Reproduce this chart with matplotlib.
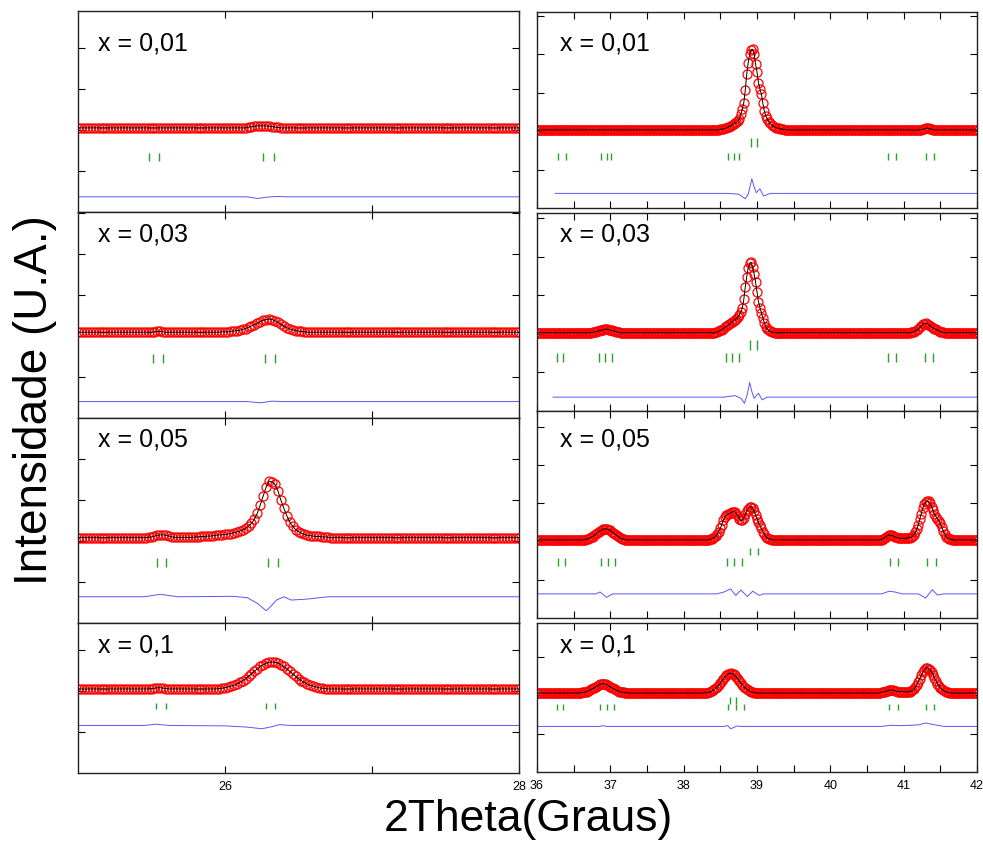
import numpy as np
import matplotlib.pyplot as plt
from matplotlib.ticker import FixedLocator, MultipleLocator

plt.rcParams['font.family'] = ['Liberation Sans', 'DejaVu Sans']

labels = ["x = 0,01", "x = 0,03", "x = 0,05", "x = 0,1"]

# 2theta sampling (instrument step 0.02 deg)
tt_left = np.round(25 + 0.02 * np.arange(151), 2)
tt_right = np.round(36 + 0.02 * np.arange(301), 2)

obs_l1 = [
    205, 205, 205, 205, 205, 205, 205, 205, 205, 205,
    205, 205, 205, 205, 205, 205, 205, 205, 205, 205,
    205, 205, 205, 205, 205, 205, 205, 205, 205, 205,
    205, 205, 205, 205, 205, 205, 205, 205, 205, 205,
    205, 205, 205, 205, 205, 205, 205, 205, 205, 205,
    205, 205, 205, 205, 205, 205, 205, 205, 207, 208,
    209, 210, 210, 210, 210, 209, 208, 207, 206, 205,
    205, 205, 205, 205, 205, 205, 205, 205, 205, 205,
    205, 205, 205, 205, 205, 205, 205, 205, 205, 205,
    205, 205, 205, 205, 205, 205, 205, 205, 205, 205,
    205, 205, 205, 205, 205, 205, 205, 205, 205, 205,
    205, 205, 205, 205, 205, 205, 205, 205, 205, 205,
    205, 205, 205, 205, 205, 205, 205, 205, 205, 205,
    205, 205, 205, 205, 205, 205, 205, 205, 205, 205,
    205, 205, 205, 205, 205, 205, 205, 205, 205, 205,
    205]
obs_l2 = [
    209, 209, 209, 209, 209, 209, 209, 209, 209, 209,
    209, 209, 209, 209, 209, 209, 209, 209, 209, 209,
    209, 209, 209, 209, 209, 209, 210, 211, 211, 210,
    209, 209, 209, 209, 209, 209, 209, 209, 209, 209,
    209, 209, 209, 209, 209, 209, 209, 209, 209, 210,
    210, 210, 211, 212, 213, 214, 216, 218, 221, 224,
    227, 231, 235, 238, 240, 241, 240, 237, 233, 228,
    224, 220, 217, 215, 213, 212, 211, 210, 209, 209,
    209, 209, 209, 209, 209, 209, 209, 209, 209, 209,
    209, 209, 209, 209, 209, 209, 209, 209, 209, 209,
    209, 209, 209, 209, 209, 209, 209, 209, 209, 209,
    209, 209, 209, 209, 209, 209, 209, 209, 209, 209,
    209, 209, 209, 209, 209, 209, 209, 209, 209, 209,
    209, 209, 209, 209, 209, 209, 209, 209, 209, 209,
    209, 209, 209, 209, 209, 209, 209, 209, 209, 209,
    209]
obs_l3 = [
    208, 208, 208, 208, 208, 208, 208, 208, 208, 208,
    208, 208, 208, 208, 208, 208, 208, 208, 208, 208,
    208, 208, 208, 208, 209, 210, 212, 214, 215, 215,
    214, 212, 210, 209, 209, 209, 209, 209, 209, 209,
    210, 210, 211, 211, 212, 212, 213, 214, 215, 215,
    216, 217, 218, 220, 222, 224, 227, 231, 236, 243,
    253, 268, 288, 310, 332, 346, 344, 338, 322, 300,
    280, 262, 247, 236, 228, 223, 219, 216, 214, 213,
    212, 211, 211, 210, 210, 209, 208, 208, 208, 208,
    208, 208, 208, 208, 208, 208, 208, 208, 208, 208,
    208, 208, 208, 208, 208, 208, 208, 208, 208, 208,
    208, 208, 208, 208, 208, 208, 208, 208, 208, 208,
    208, 208, 208, 208, 208, 208, 208, 208, 208, 208,
    208, 208, 208, 208, 208, 208, 208, 208, 208, 208,
    208, 208, 208, 208, 208, 208, 208, 208, 208, 208,
    208]
obs_l4 = [
    205, 205, 205, 205, 205, 205, 205, 205, 205, 205,
    205, 205, 205, 205, 205, 205, 205, 205, 205, 205,
    205, 205, 205, 205, 205, 206, 207, 208, 208, 207,
    206, 205, 205, 205, 205, 205, 205, 205, 205, 205,
    205, 205, 205, 205, 205, 205, 205, 205, 206, 207,
    208, 210, 212, 214, 217, 221, 225, 230, 236, 242,
    248, 254, 260, 264, 268, 270, 271, 270, 268, 264,
    260, 254, 248, 242, 236, 230, 225, 221, 217, 214,
    212, 210, 208, 207, 206, 205, 205, 205, 205, 205,
    205, 205, 205, 205, 205, 205, 205, 205, 205, 205,
    205, 205, 205, 205, 205, 205, 205, 205, 205, 205,
    205, 205, 205, 205, 205, 205, 205, 205, 205, 205,
    205, 205, 205, 205, 205, 205, 205, 205, 205, 205,
    205, 205, 205, 205, 205, 205, 205, 205, 205, 205,
    205, 205, 205, 205, 205, 205, 205, 205, 205, 205,
    205]

obs_r1 = [
    203, 203, 203, 203, 203, 203, 203, 203, 203, 203,
    203, 203, 203, 203, 203, 203, 203, 203, 203, 203,
    203, 203, 203, 203, 203, 203, 203, 203, 203, 203,
    203, 203, 203, 203, 203, 203, 203, 203, 203, 203,
    203, 203, 203, 203, 203, 203, 203, 203, 203, 203,
    203, 203, 203, 203, 203, 203, 203, 203, 203, 203,
    203, 203, 203, 203, 203, 203, 203, 203, 203, 203,
    203, 203, 203, 203, 203, 203, 203, 203, 203, 203,
    203, 203, 203, 203, 203, 203, 203, 203, 203, 203,
    203, 203, 203, 203, 203, 203, 203, 203, 203, 203,
    203, 203, 203, 203, 203, 203, 203, 203, 203, 203,
    203, 203, 203, 203, 203, 203, 203, 203, 203, 203,
    203, 203, 203, 203, 204, 205, 205, 206, 207, 208,
    210, 212, 214, 216, 219, 221, 223, 226, 232, 244,
    258, 274, 306, 348, 378, 400, 412, 413, 402, 375,
    354, 326, 310, 296, 272, 252, 240, 232, 225, 220,
    216, 213, 211, 209, 208, 207, 206, 205, 205, 204,
    204, 203, 203, 203, 203, 203, 203, 203, 203, 203,
    203, 203, 203, 203, 203, 203, 203, 203, 203, 203,
    203, 203, 203, 203, 203, 203, 203, 203, 203, 203,
    203, 203, 203, 203, 203, 203, 203, 203, 203, 203,
    203, 203, 203, 203, 203, 203, 203, 203, 203, 203,
    203, 203, 203, 203, 203, 203, 203, 203, 203, 203,
    203, 203, 203, 203, 203, 203, 203, 203, 203, 203,
    203, 203, 203, 203, 203, 203, 203, 203, 203, 203,
    203, 203, 203, 203, 203, 203, 203, 203, 203, 203,
    203, 203, 204, 205, 206, 207, 208, 207, 206, 205,
    204, 203, 203, 203, 203, 203, 203, 203, 203, 203,
    203, 203, 203, 203, 203, 203, 203, 203, 203, 203,
    203, 203, 203, 203, 203, 203, 203, 203, 203, 203,
    203]
obs_r2 = [
    203, 203, 203, 203, 203, 203, 203, 203, 203, 203,
    203, 203, 203, 203, 203, 203, 203, 203, 203, 203,
    203, 203, 203, 203, 203, 203, 203, 203, 203, 203,
    203, 203, 203, 203, 203, 203, 203, 203, 204, 205,
    206, 207, 208, 209, 210, 211, 212, 212, 212, 211,
    210, 209, 208, 207, 206, 205, 204, 203, 203, 203,
    203, 203, 203, 203, 203, 203, 203, 203, 203, 203,
    203, 203, 203, 203, 203, 203, 203, 203, 203, 203,
    203, 203, 203, 203, 203, 203, 203, 203, 203, 203,
    203, 203, 203, 203, 203, 203, 203, 203, 203, 203,
    203, 203, 203, 203, 203, 203, 203, 203, 203, 203,
    203, 203, 203, 203, 203, 203, 203, 203, 203, 203,
    203, 203, 204, 205, 207, 209, 211, 214, 217, 220,
    222, 225, 228, 231, 234, 237, 240, 244, 250, 258,
    267, 290, 322, 349, 372, 384, 386, 374, 356, 335,
    310, 284, 268, 255, 242, 229, 219, 213, 209, 207,
    205, 204, 203, 203, 203, 203, 203, 203, 203, 203,
    203, 203, 203, 203, 203, 203, 203, 203, 203, 203,
    203, 203, 203, 203, 203, 203, 203, 203, 203, 203,
    203, 203, 203, 203, 203, 203, 203, 203, 203, 203,
    203, 203, 203, 203, 203, 203, 203, 203, 203, 203,
    203, 203, 203, 203, 203, 203, 203, 203, 203, 203,
    203, 203, 203, 203, 203, 203, 203, 203, 203, 203,
    203, 203, 203, 203, 203, 203, 203, 203, 203, 203,
    203, 203, 203, 203, 203, 203, 203, 203, 203, 203,
    203, 203, 203, 203, 203, 204, 205, 206, 208, 210,
    213, 217, 221, 225, 227, 228, 227, 224, 221, 218,
    216, 214, 212, 210, 208, 206, 205, 204, 203, 203,
    203, 203, 203, 203, 203, 203, 203, 203, 203, 203,
    203, 203, 203, 203, 203, 203, 203, 203, 203, 203,
    203]
obs_r3 = [
    204, 204, 204, 204, 204, 204, 204, 204, 204, 204,
    204, 204, 204, 204, 204, 204, 204, 204, 204, 204,
    204, 204, 204, 204, 204, 204, 204, 204, 204, 204,
    204, 204, 204, 205, 206, 207, 209, 211, 213, 216,
    219, 222, 225, 228, 230, 232, 233, 233, 232, 231,
    229, 226, 223, 220, 217, 214, 211, 209, 207, 206,
    205, 204, 204, 204, 204, 204, 204, 204, 204, 204,
    204, 204, 204, 204, 204, 204, 204, 204, 204, 204,
    204, 204, 204, 204, 204, 204, 204, 204, 204, 204,
    204, 204, 204, 204, 204, 204, 204, 204, 204, 204,
    204, 204, 204, 204, 204, 204, 204, 204, 204, 204,
    204, 204, 204, 204, 204, 204, 204, 204, 206, 207,
    209, 211, 214, 219, 226, 235, 244, 255, 263, 268,
    271, 273, 275, 277, 278, 277, 273, 267, 260, 255,
    255, 262, 271, 279, 286, 290, 291, 287, 279, 269,
    260, 250, 242, 234, 226, 219, 213, 209, 207, 206,
    205, 204, 204, 204, 204, 204, 204, 204, 204, 204,
    204, 204, 204, 204, 204, 204, 204, 204, 204, 204,
    204, 204, 204, 204, 204, 204, 204, 204, 204, 204,
    204, 204, 204, 204, 204, 204, 204, 204, 204, 204,
    204, 204, 204, 204, 204, 204, 204, 204, 204, 204,
    204, 204, 204, 204, 204, 204, 204, 204, 204, 204,
    204, 204, 204, 204, 204, 204, 204, 204, 204, 204,
    204, 204, 204, 204, 204, 205, 207, 210, 213, 215,
    217, 217, 216, 214, 212, 211, 210, 209, 208, 208,
    208, 208, 209, 210, 210, 211, 213, 217, 224, 233,
    244, 258, 273, 287, 297, 303, 305, 305, 300, 291,
    281, 272, 265, 260, 254, 247, 238, 227, 219, 213,
    209, 207, 206, 205, 204, 204, 204, 204, 204, 204,
    204, 204, 204, 204, 204, 204, 204, 204, 204, 204,
    204]
obs_r4 = [
    206, 206, 206, 206, 206, 206, 206, 206, 206, 206,
    206, 206, 206, 206, 206, 206, 206, 206, 206, 206,
    206, 206, 206, 206, 206, 206, 206, 206, 206, 207,
    207, 208, 208, 209, 210, 212, 214, 216, 218, 220,
    222, 225, 227, 229, 230, 231, 230, 229, 227, 225,
    222, 220, 218, 216, 214, 212, 210, 209, 208, 208,
    207, 207, 206, 206, 206, 206, 206, 206, 206, 206,
    206, 206, 206, 206, 206, 206, 206, 206, 206, 206,
    206, 206, 206, 206, 206, 206, 206, 206, 206, 206,
    206, 206, 206, 206, 206, 206, 206, 206, 206, 206,
    206, 206, 206, 206, 206, 206, 206, 206, 206, 206,
    206, 206, 206, 206, 206, 207, 207, 208, 209, 211,
    213, 216, 219, 223, 227, 232, 238, 243, 248, 252,
    255, 257, 258, 257, 255, 252, 248, 243, 238, 232,
    227, 223, 219, 216, 213, 211, 209, 208, 207, 207,
    206, 206, 206, 206, 206, 206, 206, 206, 206, 206,
    206, 206, 206, 206, 206, 206, 206, 206, 206, 206,
    206, 206, 206, 206, 206, 206, 206, 206, 206, 206,
    206, 206, 206, 206, 206, 206, 206, 206, 206, 206,
    206, 206, 206, 206, 206, 206, 206, 206, 206, 206,
    206, 206, 206, 206, 206, 206, 206, 206, 206, 206,
    206, 206, 206, 206, 206, 206, 206, 206, 206, 206,
    206, 206, 206, 206, 206, 206, 206, 206, 206, 206,
    206, 206, 206, 206, 207, 208, 209, 210, 211, 212,
    213, 214, 214, 213, 212, 211, 210, 210, 210, 210,
    210, 209, 209, 209, 210, 211, 213, 216, 221, 228,
    236, 244, 252, 260, 266, 271, 272, 270, 266, 261,
    254, 246, 238, 231, 225, 220, 216, 213, 211, 209,
    208, 207, 206, 206, 206, 206, 206, 206, 206, 206,
    206, 206, 206, 206, 206, 206, 206, 206, 206, 206,
    206]

# difference curve (obs - calc), offset, read at the turning points
diff_l1_x = [25.0, 26.15, 26.22, 26.28, 26.35, 26.42, 28.0]
diff_l1_y = [0.37, 0.37, 0.33, 0.36, 0.38, 0.37, 0.37]
diff_l2_x = [25.0, 26.15, 26.24, 26.32, 26.40, 28.0]
diff_l2_y = [0.40, 0.40, 0.37, 0.41, 0.40, 0.40]
diff_l3_x = [25.0, 25.45, 25.56, 25.68, 26.05, 26.15, 26.22, 26.28, 26.31,
             26.35, 26.40, 26.45, 26.55, 26.70, 28.0]
diff_l3_y = [0.64, 0.64, 0.70, 0.64, 0.65, 0.62, 0.48, 0.30, 0.40,
             0.56, 0.64, 0.56, 0.58, 0.64, 0.64]
diff_l4_x = [25.0, 25.45, 25.53, 25.62, 26.0, 26.15, 26.25, 26.32, 26.37, 26.45, 28.0]
diff_l4_y = [1.16, 1.16, 1.19, 1.16, 1.15, 1.12, 1.08, 1.13, 1.18, 1.16, 1.16]

diff_r1_x = [36.25, 38.60, 38.75, 38.84, 38.88, 38.93, 38.96, 38.99, 39.04, 39.09, 39.18, 42.0]
diff_r1_y = [0.38, 0.38, 0.36, 0.24, 0.36, 0.76, 0.55, 0.40, 0.50, 0.31, 0.38, 0.38]
diff_r2_x = [36.22, 38.55, 38.70, 38.78, 38.83, 38.87, 38.90, 38.93, 38.96,
             39.02, 39.07, 39.14, 42.0]
diff_r2_y = [0.36, 0.36, 0.40, 0.33, 0.20, 0.45, 0.74, 0.50, 0.33,
             0.46, 0.29, 0.36, 0.36]
diff_r3_x = [36.0, 36.80, 36.86, 36.95, 37.03, 38.45, 38.55, 38.64, 38.71, 38.78,
             38.87, 38.94, 39.03, 39.09, 40.70, 40.80, 40.88, 40.98, 41.20, 41.30,
             41.39, 41.46, 41.55, 42.0]
diff_r3_y = [0.63, 0.63, 0.68, 0.54, 0.63, 0.63, 0.68, 0.76, 0.59, 0.73,
             0.56, 0.70, 0.59, 0.63, 0.63, 0.70, 0.68, 0.63, 0.63, 0.52,
             0.74, 0.60, 0.63, 0.63]
diff_r4_x = [36.0, 36.85, 36.90, 36.95, 38.55, 38.60, 38.64, 38.68, 38.72, 38.80,
             40.70, 40.82, 40.95, 41.20, 41.30, 41.40, 41.55, 42.0]
diff_r4_y = [1.19, 1.19, 1.21, 1.19, 1.19, 1.21, 1.13, 1.16, 1.20, 1.19,
             1.19, 1.22, 1.21, 1.23, 1.28, 1.24, 1.19, 1.19]

# Bragg reflection positions (2theta)
bragg_l1 = [25.48, 25.55, 26.26, 26.33]
bragg_l2 = [25.51, 25.58, 26.27, 26.34]
bragg_l3 = [25.54, 25.60, 26.29, 26.36]
bragg_l4 = [25.53, 25.60, 26.28, 26.34]
bragg_r1_a = [38.92, 39.00]
bragg_r1_b = [36.29, 36.39, 36.87, 36.96, 37.01, 38.60, 38.68, 38.75, 40.79, 40.90, 41.31, 41.42]
bragg_r2_a = [38.90, 39.00]
bragg_r2_b = [36.27, 36.36, 36.85, 36.93, 37.02, 38.58, 38.66, 38.76, 40.78, 40.90, 41.29, 41.40]
bragg_r3_a = [38.91, 39.01]
bragg_r3_b = [36.28, 36.38, 36.87, 36.97, 37.07, 38.59, 38.69, 38.80, 40.81, 40.92, 41.32, 41.44]
bragg_r4_a = [38.63, 38.72]
bragg_r4_b = [36.27, 36.36, 36.86, 36.95, 37.05, 38.60, 38.71, 38.82, 40.80, 40.92, 41.31, 41.42]

left_panels = [
    (obs_l1, diff_l1_x, diff_l1_y, [(bragg_l1, 1.24, 1.44)], 4.90, (11, 212)),
    (obs_l2, diff_l2_x, diff_l2_y, [(bragg_l2, 1.34, 1.56)], 5.02, (212, 418)),
    (obs_l3, diff_l3_x, diff_l3_y, [(bragg_l3, 1.37, 1.58)], 5.00, (418, 623)),
    (obs_l4, diff_l4_x, diff_l4_y, [(bragg_l4, 1.55, 1.71)], 3.66, (623, 773)),
]
right_panels = [
    (obs_r1, diff_r1_x, diff_r1_y, [(bragg_r1_a, 1.60, 1.81), (bragg_r1_b, 1.25, 1.44)], 5.10, (12, 208)),
    (obs_r2, diff_r2_x, diff_r2_y, [(bragg_r2_a, 1.58, 1.84), (bragg_r2_b, 1.28, 1.51)], 5.14, (213, 411)),
    (obs_r3, diff_r3_x, diff_r3_y, [(bragg_r3_a, 1.65, 1.84), (bragg_r3_b, 1.35, 1.57)], 5.41, (411, 618)),
    (obs_r4, diff_r4_x, diff_r4_y, [(bragg_r4_a, 1.78, 1.96), (bragg_r4_b, 1.61, 1.78)], 3.89, (623, 772)),
]

W, H = 983, 843
fig = plt.figure(figsize=(W / 100, H / 100), dpi=100)


def draw_panel(rect, tt, obs, dx, dy, bragg, ytop, xlim, last):
    ax = fig.add_axes(rect)
    y = np.array(obs) / 100.0
    ax.plot(tt, y, 'o', mfc='none', mec='#ff0000', ms=6.5, mew=0.9, zorder=2)
    ax.plot(tt, y, color='black', lw=0.7, zorder=3)
    for pos, y0, y1 in bragg:
        ax.vlines(pos, y0, y1, colors='#2e9e2e', lw=1.0)
    ax.plot(dx, dy, color='#3a3aff', lw=0.7, alpha=0.85)
    ax.set_yticks([t for t in [1, 2, 3, 4, 5] if t < ytop])
    ax.set_xlim(*xlim)
    ax.set_ylim(0, ytop)
    ax.tick_params(which='both', direction='in', top=True, right=True,
                   length=5, width=0.8, labelleft=False, labelsize=9,
                   labelbottom=last, pad=6)
    for s in ax.spines.values():
        s.set_linewidth(1.0)
        s.set_color('#222222')
    return ax


for k, (obs, dx, dy, bragg, ytop, (t, b)) in enumerate(left_panels):
    rect = [78 / W, 1 - b / H, 441 / W, (b - t) / H]
    ax = draw_panel(rect, tt_left, obs, dx, dy, bragg, ytop, (25, 28), k == 3)
    ax.xaxis.set_major_locator(FixedLocator([26, 28]))
    ax.xaxis.set_minor_locator(FixedLocator([27]))

for k, (obs, dx, dy, bragg, ytop, (t, b)) in enumerate(right_panels):
    rect = [537 / W, 1 - b / H, 440 / W, (b - t) / H]
    ax = draw_panel(rect, tt_right, obs, dx, dy, bragg, ytop, (36, 42), k == 3)
    ax.xaxis.set_major_locator(MultipleLocator(1))
    ax.xaxis.set_minor_locator(MultipleLocator(0.5))

# composition labels
for lab, yb in zip(labels, [50, 241, 447, 652]):
    fig.text(98 / W, 1 - yb / H, lab, fontsize=18, va='baseline')
    fig.text(560 / W, 1 - yb / H, lab, fontsize=18, va='baseline')

fig.text(35 / W, 1 - 400 / H, "Intensidade (U.A.)", rotation=90,
         ha='center', va='center', fontsize=33)
fig.text(528 / W, 1 - 831 / H, "2Theta(Graus)", ha='center', va='baseline',
         fontsize=32)

fig.savefig("out.png", dpi=100)
